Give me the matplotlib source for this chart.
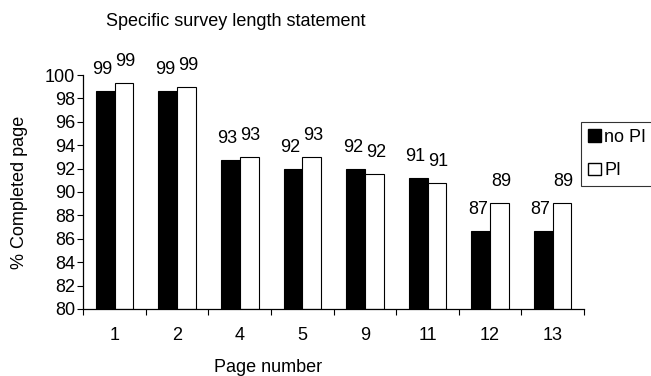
import matplotlib
matplotlib.use("Agg")
import matplotlib.pyplot as plt
import numpy as np
from matplotlib.patches import Patch

plt.rcParams['font.family'] = ['Liberation Sans', 'DejaVu Sans']

pages = ["1", "2", "4", "5", "9", "11", "12", "13"]
no_pi = [98.66, 98.66, 92.74, 91.97, 91.97, 91.2, 86.7, 86.7]
pi = [99.34, 99.0, 93.02, 93.02, 91.54, 90.8, 89.1, 89.1]
no_pi_labels = ["99", "99", "93", "92", "92", "91", "87", "87"]
pi_labels = ["99", "99", "93", "93", "92", "91", "89", "89"]

fig = plt.figure(figsize=(6.51, 3.76), dpi=100)
ax = fig.add_axes([83.3/651, 1-309/376, (584-83.3)/651, (309-75)/376])

x = np.arange(len(pages))
w = 0.3
ax.bar(x - w/2, [v - 80 for v in no_pi], w, bottom=80, color='black', edgecolor='black', linewidth=0.8)
ax.bar(x + w/2, [v - 80 for v in pi], w, bottom=80, color='white', edgecolor='black', linewidth=0.8)

for xi, v, t in zip(x - w/2, no_pi, no_pi_labels):
    ax.annotate(t, (xi, v), xytext=(-2, 9), textcoords='offset points', ha='center', va='bottom', fontsize=13)
for xi, v, t in zip(x + w/2, pi, pi_labels):
    ax.annotate(t, (xi, v), xytext=(1, 9), textcoords='offset points', ha='center', va='bottom', fontsize=13)

ax.set_xlim(-0.5, len(pages) - 0.5)
ax.set_ylim(80, 100)
ax.set_yticks(np.arange(80, 101, 2))
ax.tick_params(axis='y', labelsize=13, length=4, width=0.8, direction='out', pad=2)
ax.set_xticks(np.arange(-0.5, len(pages), 1))
ax.set_xticklabels([])
ax.set_xticks(x, minor=True)
ax.set_xticklabels(pages, minor=True)
ax.tick_params(axis='x', which='major', length=4, width=0.8, direction='out')
ax.tick_params(axis='x', which='minor', length=0, labelsize=13, pad=13)
for s in ['top', 'right']:
    ax.spines[s].set_visible(False)
for s in ['left', 'bottom']:
    ax.spines[s].set_linewidth(0.9)

fig.text(236/651, 1-22/376, "Specific survey length statement", ha='center', va='center', fontsize=13)
fig.text(268/651, 1-367/376, "Page number", ha='center', va='center', fontsize=13)
fig.text(20/651, 1-192/376, "% Completed page", ha='center', va='center', rotation=90, fontsize=13)

handles = [Patch(facecolor='black', edgecolor='black', label='no PI'),
           Patch(facecolor='white', edgecolor='black', label='PI')]
leg = fig.legend(handles=handles, loc='upper left', bbox_to_anchor=(581/651, 1-121.7/376),
                 fontsize=13, frameon=True, fancybox=False, edgecolor='black',
                 handlelength=0.7, handleheight=0.7, handletextpad=0.2, labelspacing=0.9,
                 borderpad=0.4, borderaxespad=0)
leg.get_frame().set_linewidth(0.8)

fig.savefig("out.png", dpi=100)
